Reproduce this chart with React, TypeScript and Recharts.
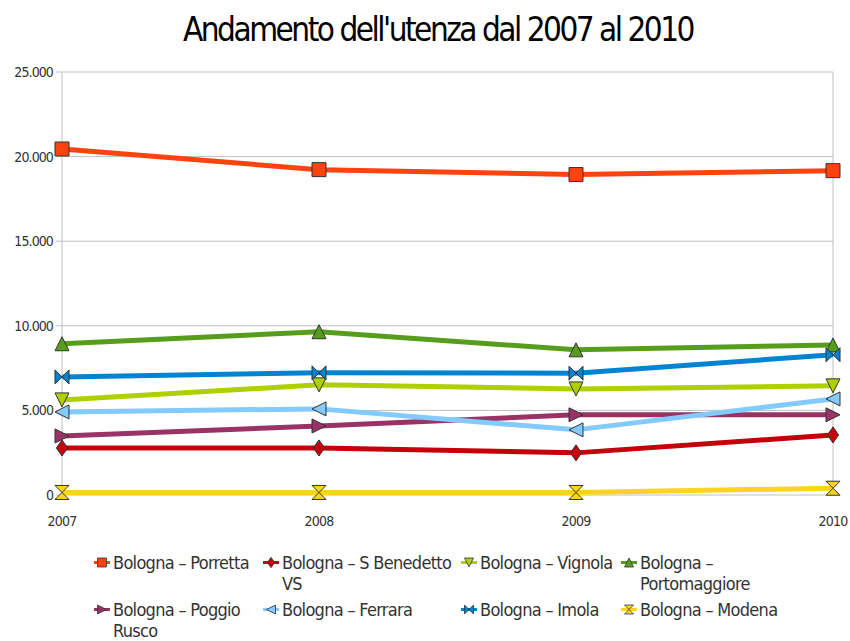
import React from "react";
import { CartesianGrid, Line, LineChart, ReferenceLine, XAxis, YAxis } from "recharts";

// values
const years = [2007, 2008, 2009, 2010];
const porretta = [20450, 19230, 18940, 19170];
const sBenedetto = [2780, 2780, 2490, 3550];
const vignola = [5620, 6510, 6270, 6450];
const portomaggiore = [8940, 9650, 8580, 8870];
const poggioRusco = [3490, 4080, 4740, 4740];
const ferrara = [4910, 5090, 3850, 5680];
const imola = [6980, 7220, 7200, 8290];
const modena = [150, 150, 150, 400];
const yTicks = [0, 5000, 10000, 15000, 20000, 25000];

const FONT = "'DejaVu Sans Condensed', 'Liberation Sans', sans-serif";

type Shape = "square" | "diamond" | "down" | "up" | "right" | "left" | "bowtie" | "hourglass";

const series: Array<{ key: string; name: string; color: string; shape: Shape; values: number[]; width: number }> = [
  { key: "porretta", name: "Bologna – Porretta", color: "#ff420e", shape: "square", values: porretta, width: 150 },
  { key: "sBenedetto", name: "Bologna – S Benedetto VS", color: "#c5000b", shape: "diamond", values: sBenedetto, width: 178 },
  { key: "vignola", name: "Bologna – Vignola", color: "#aecf00", shape: "down", values: vignola, width: 145 },
  { key: "portomaggiore", name: "Bologna – Portomaggiore", color: "#579d1c", shape: "up", values: portomaggiore, width: 150 },
  { key: "poggioRusco", name: "Bologna – Poggio Rusco", color: "#993366", shape: "right", values: poggioRusco, width: 150 },
  { key: "ferrara", name: "Bologna – Ferrara", color: "#83caff", shape: "left", values: ferrara, width: 178 },
  { key: "imola", name: "Bologna – Imola", color: "#0084d1", shape: "bowtie", values: imola, width: 145 },
  { key: "modena", name: "Bologna – Modena", color: "#ffd320", shape: "hourglass", values: modena, width: 150 },
];

const data = years.map((year, i) => {
  const row: Record<string, number> = { year };
  series.forEach((s) => {
    row[s.key] = s.values[i];
  });
  return row;
});

const shapePath = (shape: Shape, x: number, y: number, r: number) => {
  switch (shape) {
    case "square":
      return `M${x - r},${y - r}H${x + r}V${y + r}H${x - r}Z`;
    case "diamond":
      return `M${x},${y - r * 1.15}L${x + r * 0.8},${y}L${x},${y + r * 1.15}L${x - r * 0.8},${y}Z`;
    case "down":
      return `M${x - r},${y - r}H${x + r}L${x},${y + r}Z`;
    case "up":
      return `M${x - r},${y + r}H${x + r}L${x},${y - r}Z`;
    case "right":
      return `M${x - r},${y - r}V${y + r}L${x + r},${y}Z`;
    case "left":
      return `M${x + r},${y - r}V${y + r}L${x - r},${y}Z`;
    case "bowtie":
      return `M${x - r},${y - r}L${x},${y}L${x - r},${y + r}ZM${x + r},${y - r}L${x},${y}L${x + r},${y + r}Z`;
    case "hourglass":
      return `M${x - r},${y - r}H${x + r}L${x},${y}ZM${x - r},${y + r}H${x + r}L${x},${y}Z`;
  }
};

const makeDot = (shape: Shape, color: string) => (props: any) => {
  const { cx, cy, index } = props;
  if (cx == null || cy == null) return <g key={index} />;
  return <path key={index} d={shapePath(shape, cx, cy, 7)} fill={color} stroke="#333" strokeWidth={1} />;
};

const formatThousands = (v: number) => String(v).replace(/\B(?=(\d{3})+(?!\d))/g, ".");

const legendText = [113, 282, 480, 640];
const legendTop = [552, 599];

export default function App() {
  return (
    <div style={{ position: "absolute", left: 0, top: 0, width: 850, height: 641, background: "#fff", fontFamily: FONT }}>
      <div
        style={{
          position: "absolute",
          top: 10,
          left: 0,
          width: 876,
          textAlign: "center",
          fontSize: 33,
          letterSpacing: -2.5,
          color: "#000",
        }}
      >
        Andamento dell'utenza dal 2007 al 2010
      </div>
      <LineChart width={850} height={641} data={data} margin={{ top: 72, right: 17, bottom: 116, left: 12 }}>
        <CartesianGrid vertical={false} stroke="#c0c0c0" />
        <XAxis
          dataKey="year"
          type="number"
          domain={[2007, 2010]}
          ticks={years}
          height={30}
          axisLine={false}
          tickLine={false}
          tickMargin={15}
          tick={{ fill: "#333", fontSize: 14, fontFamily: FONT, letterSpacing: -0.8 }}
        />
        <YAxis
          domain={[0, 25000]}
          ticks={yTicks}
          width={50}
          stroke="#c0c0c0"
          tickSize={6}
          tickMargin={3}
          tickFormatter={formatThousands}
          tick={{ fill: "#333", fontSize: 14, fontFamily: FONT, letterSpacing: -0.9 }}
        />
        <ReferenceLine x={2010} stroke="#c0c0c0" />
        {series.map((s) => (
          <Line
            key={s.key}
            dataKey={s.key}
            name={s.name}
            type="linear"
            stroke={s.color}
            strokeWidth={5}
            dot={makeDot(s.shape, s.color)}
            activeDot={false}
            isAnimationActive={false}
          />
        ))}
      </LineChart>
      {series.map((s, i) => (
        <div
          key={s.key}
          style={{
            position: "absolute",
            left: legendText[i % 4] - 20,
            top: legendTop[Math.floor(i / 4)],
            width: s.width + 20,
            display: "flex",
            alignItems: "flex-start",
            fontSize: 18,
            letterSpacing: -0.7,
            lineHeight: "21px",
            color: "#333",
          }}
        >
          <svg width={18} height={21} style={{ flex: "none", marginRight: 2 }}>
            <line x1={1} y1={10.5} x2={17} y2={10.5} stroke={s.color} strokeWidth={3} />
            <path d={shapePath(s.shape, 9, 10.5, 4.5)} fill={s.color} stroke="#333" strokeWidth={0.8} />
          </svg>
          <span style={{ width: s.width }}>{s.name}</span>
        </div>
      ))}
    </div>
  );
}
